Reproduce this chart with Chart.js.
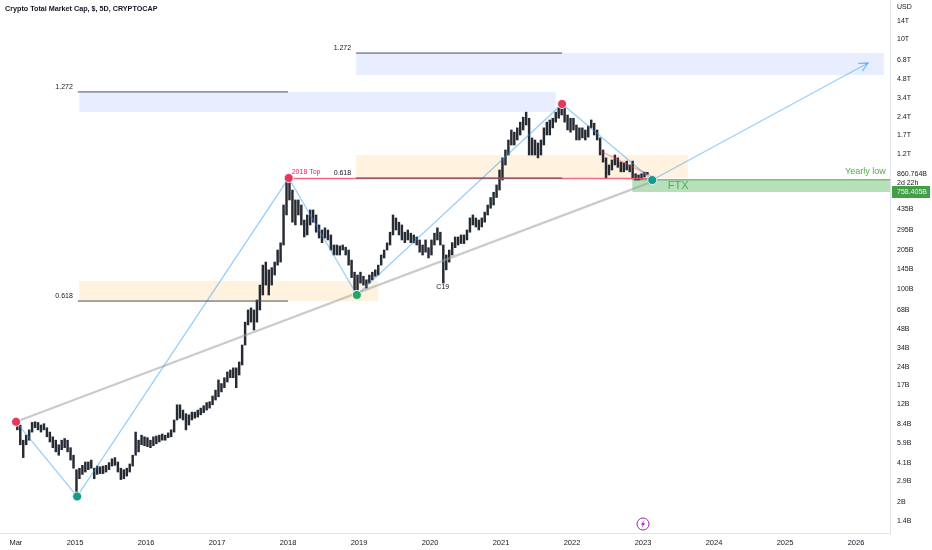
<!DOCTYPE html>
<html>
<head>
<meta charset="utf-8">
<title>Crypto Total Market Cap, $, 5D, CRYPTOCAP</title>
<script src="https://cdn.jsdelivr.net/npm/chart.js@4.4.0/dist/chart.umd.min.js"></script>
<style>
  html, body { margin: 0; padding: 0; background: #ffffff; }
  #wrap { position: relative; width: 932px; height: 550px; }
</style>
</head>
<body>
<div id="wrap"><canvas id="chart"></canvas></div>
<script>
/* ---------- data (billions USD, [low, high] per half month) ---------- */

const yr2014 = [[7.5, 9.0], [5.7, 8.2], [4.5, 6.2], [5.7, 6.8], [6.2, 7.5], [7.2, 8.6], [7.8, 8.7], [7.5, 8.6],
  [7.2, 8.2], [7.5, 8.4], [6.6, 7.8], [6.0, 7.2], [5.4, 6.6], [5.0, 6.2], [4.7, 5.7], [5.2, 6.2],
  [5.4, 6.4], [5.0, 6.2], [4.3, 5.4], [3.7, 4.7]];
const yr2015 = [[2.2, 3.6], [3.05, 3.7], [3.3, 3.9], [3.45, 4.15], [3.6, 4.15], [3.7, 4.3], [3.05, 3.7], [3.3, 3.85],
  [3.35, 3.8], [3.35, 3.85], [3.45, 3.9], [3.6, 4.1], [3.85, 4.4], [3.9, 4.5], [3.45, 4.15], [3.0, 3.7],
  [3.05, 3.6], [3.2, 3.7], [3.45, 4.0], [3.85, 4.7], [4.7, 7.2], [5.0, 6.2], [5.7, 6.8], [5.6, 6.6]];
const yr2016 = [[5.5, 6.5], [5.4, 6.2], [5.6, 6.6], [5.8, 6.7], [6.0, 6.8], [6.2, 6.95], [6.2, 6.8], [6.5, 7.1],
  [6.6, 7.5], [7.2, 9.0], [9.0, 11.9], [9.3, 11.9], [9.0, 10.8], [7.5, 10.1], [8.2, 9.9], [9.0, 10.4],
  [9.3, 10.4], [9.5, 10.8], [9.9, 11.2], [10.3, 11.7], [10.8, 12.4], [11.2, 12.6], [11.9, 14.0], [13.0, 15.6]];
const yr2017 = [[13.8, 18.8], [15.1, 17.6], [16.3, 19.6], [18.1, 21.8], [19.6, 22.6], [19.6, 23.5], [16.3, 23.5], [20.6, 26.2],
  [24.8, 35.8], [35.8, 54.6], [51.8, 68.3], [54.6, 70.9], [47.2, 68.3], [54.6, 82.1], [68.3, 108], [90, 156],
  [108, 165], [90, 143], [108, 149], [130, 165], [156, 206], [165, 235], [226, 472], [393, 776]];
const yr2018 = [[518, 776], [344, 622], [327, 518], [393, 518], [327, 472], [262, 358], [272, 393], [327, 431],
  [344, 431], [286, 393], [257, 327], [236, 298], [257, 310], [248, 298], [206, 272], [188, 226],
  [188, 226], [188, 222], [206, 226], [188, 217], [156, 206], [124, 171], [98.7, 137], [98.7, 130]];
const yr2019 = [[112, 137], [108, 127], [102, 119], [112, 130], [119, 137], [127, 143], [130, 156], [156, 188],
  [178, 206], [206, 235], [226, 286], [272, 393], [298, 372], [272, 344], [248, 327], [236, 286],
  [248, 298], [236, 281], [235, 272], [226, 262], [198, 248], [188, 226], [198, 248], [178, 215]];
const yr2020 = [[188, 248], [226, 281], [248, 310], [226, 286], [112, 226], [143, 188], [165, 206], [188, 236],
  [215, 262], [226, 262], [232, 272], [232, 272], [248, 298], [286, 372], [327, 393], [315, 372],
  [298, 358], [315, 372], [344, 414], [393, 472], [445, 542], [472, 597], [542, 683], [622, 900]];
const yr2021 = [[748, 1125], [987, 1301], [1186, 1564], [1426, 1880], [1426, 1807], [1564, 1955], [1715, 2172], [1880, 2380],
  [2061, 2610], [1186, 2335], [1186, 1625], [1186, 1564], [1125, 1480], [1186, 1564], [1426, 1955], [1715, 2172],
  [1715, 2260], [1955, 2335], [2172, 2610], [2335, 2830], [2478, 3100], [2172, 2830], [1880, 2478], [1807, 2335]];
const yr2022 = [[1880, 2335], [1564, 2061], [1564, 1955], [1625, 1955], [1564, 1880], [1650, 2020], [1955, 2260], [1715, 2130],
  [1564, 1880], [1186, 1625], [1040, 1301], [776, 1125], [821, 987], [900, 1082], [987, 1186], [945, 1125],
  [870, 1040], [870, 1025], [900, 1060], [870, 987], [776, 1060], [748, 840], [748, 821], [762, 840]];
const yr2023 = [[790, 865], [830, 862]];

const years = [2014, 2015, 2016, 2017, 2018, 2019, 2020, 2021, 2022, 2023];
const firstSlot2014 = 4; // series starts in early March 2014

const lastPrice = 860.764;
const yearlyLow = 758.405;

const xTickValues = [2014.167, 2015, 2016, 2017, 2018, 2019, 2020, 2021, 2022, 2023, 2024, 2025, 2026];
const xTickLabels = ['Mar', '2015', '2016', '2017', '2018', '2019', '2020', '2021', '2022', '2023', '2024', '2025', '2026'];

const yTickValues = [1.4, 2, 2.9, 4.1, 5.9, 8.4, 12, 17, 24, 34, 48, 68, 100, 145, 205, 295, 435,
  1200, 1700, 2400, 3400, 4800, 6800, 10000, 14000];
const yTickLabels = ['1.4B', '2B', '2.9B', '4.1B', '5.9B', '8.4B', '12B', '17B', '24B', '34B', '48B', '68B', '100B',
  '145B', '205B', '295B', '435B', '1.2T', '1.7T', '2.4T', '3.4T', '4.8T', '6.8T', '10T', '14T'];

// drawing tools, in [year, billions]
const zigzag = [[2014.17, 8.7], [2015.03, 2.2], [2018.01, 776], [2018.97, 90], [2021.86, 3035], [2023.13, 748], [2026.17, 6460]];
const trendLine = [[2014.17, 8.7], [2023.17, 740]];
const fallLine = [[2022.37, 1300], [2023.2, 762]];
const topLine = [[2018.01, 770], [2023.1, 770]];
const pivots = [[2014.17, 8.7], [2015.03, 2.2], [2018.01, 776], [2018.97, 90], [2021.86, 3035], [2023.13, 748]];
const pivotKinds = ['top', 'low', 'top', 'base', 'top', 'low'];

// [x1, x2, level, label]
const fibLines = [
  [2015.04, 2018.0, 3790, '1.272'],
  [2018.96, 2021.86, 7760, '1.272'],
  [2018.96, 2021.86, 776, '0.618'],
  [2015.04, 2018.0, 80.5, '0.618']
];
// [x1, x2, top, bottom, kind]
const zones = [
  [2018.96, 2026.39, 7760, 5180, 'blue'],
  [2015.06, 2021.77, 3790, 2620, 'blue'],
  [2018.96, 2023.63, 1186, 776, 'orange'],
  [2015.06, 2019.27, 116.5, 80.5, 'orange'],
  [2022.85, 2026.48, 762, 600, 'green']
];

/* ---------- build ---------- */

const candles = [];
[yr2014, yr2015, yr2016, yr2017, yr2018, yr2019, yr2020, yr2021, yr2022, yr2023].forEach((rows, k) => {
  const start = k === 0 ? firstSlot2014 : 0;
  rows.forEach(([lo, hi], i) => {
    candles.push({ x: years[k] + (start + i + 0.5) / 24, y: [lo, hi] });
  });
});

const toPts = arr => arr.map(([x, y]) => ({ x, y }));

const zoneColors = {
  blue: 'rgba(41, 98, 255, 0.11)',
  orange: 'rgba(255, 152, 0, 0.13)',
  green: 'rgba(76, 175, 80, 0.40)'
};
const pivotColors = { top: '#e8375f', low: '#16998a', base: '#27a366' };
const FONT = '"Liberation Sans", Arial, sans-serif';
const TEXT = '#131722';

const lineSet = (data, color, width, order) => ({
  type: 'line', data: toPts(data), borderColor: color, borderWidth: width,
  pointRadius: 0, tension: 0, fill: false, order
});

const datasets = [
  {
    type: 'bar', data: candles, backgroundColor: '#262a33', borderWidth: 0,
    barThickness: 1.8, grouped: false, order: 10
  },
  lineSet(trendLine, 'rgba(160, 160, 160, 0.55)', 2.2, 8),
  lineSet(fallLine, 'rgba(242, 54, 69, 0.35)', 1.5, 7),
  lineSet(topLine, 'rgba(240, 80, 115, 0.85)', 1.5, 6),
  lineSet(zigzag, 'rgba(33, 150, 243, 0.45)', 1.3, 5)
];
fibLines.forEach(([x1, x2, v]) => datasets.push(lineSet([[x1, v], [x2, v]], '#4a4e59', 1, 4)));
datasets.push({
  type: 'line', data: toPts(pivots), showLine: false, order: 0,
  pointRadius: 4.5, pointBorderWidth: 1, pointBorderColor: 'rgba(255,255,255,0.8)',
  pointBackgroundColor: pivotKinds.map(k => pivotColors[k])
});

const drawings = {
  id: 'drawings',
  beforeDatasetsDraw(chart) {
    const { ctx, scales: { x, y } } = chart;
    ctx.save();
    zones.forEach(([x1, x2, top, bottom, kind]) => {
      const left = x.getPixelForValue(x1);
      const right = x.getPixelForValue(x2);
      const t = y.getPixelForValue(top);
      const b = y.getPixelForValue(bottom);
      ctx.fillStyle = zoneColors[kind];
      ctx.fillRect(left, t, right - left, b - t);
      if (kind === 'green') {
        ctx.fillStyle = 'rgba(76, 175, 80, 0.6)';
        ctx.fillRect(left, t, right - left, 1.5);
      }
    });
    ctx.restore();
  },
  afterDraw(chart) {
    const { ctx, scales: { x, y }, chartArea } = chart;
    ctx.save();

    // title
    ctx.fillStyle = TEXT;
    ctx.textBaseline = 'middle';
    ctx.textAlign = 'left';
    ctx.font = 'bold 7.2px ' + FONT;
    ctx.fillText('Crypto Total Market Cap, $, 5D, CRYPTOCAP', 5, 9);

    // fib level labels
    ctx.font = '7px ' + FONT;
    ctx.textAlign = 'right';
    fibLines.forEach(([x1, , v, label]) => {
      ctx.fillText(label, x.getPixelForValue(x1) - 5, y.getPixelForValue(v) - 5);
    });

    // text notes
    ctx.textAlign = 'left';
    ctx.fillStyle = '#e91e63';
    ctx.fillText('2018 Top', x.getPixelForValue(topLine[0][0]) + 3, y.getPixelForValue(topLine[0][1]) - 6);
    ctx.fillStyle = TEXT;
    ctx.textAlign = 'center';
    ctx.fillText('C19', x.getPixelForValue(2020.18), y.getPixelForValue(104));

    ctx.fillStyle = '#4caf50';
    ctx.textAlign = 'right';
    ctx.font = '9px ' + FONT;
    ctx.fillText('Yearly low', x.getPixelForValue(2026.42), y.getPixelForValue(867));
    ctx.textAlign = 'left';
    ctx.font = '11px ' + FONT;
    ctx.fillText('FTX', x.getPixelForValue(2023.35), y.getPixelForValue(670));

    // arrow head on the projection line
    const [ax, ay] = zigzag[zigzag.length - 1];
    const [bx, by] = zigzag[zigzag.length - 2];
    const tipX = x.getPixelForValue(ax), tipY = y.getPixelForValue(ay);
    const ang = Math.atan2(tipY - y.getPixelForValue(by), tipX - x.getPixelForValue(bx));
    ctx.strokeStyle = 'rgba(33, 150, 243, 0.55)';
    ctx.lineWidth = 1.3;
    ctx.beginPath();
    ctx.moveTo(tipX - 10 * Math.cos(ang - 0.45), tipY - 10 * Math.sin(ang - 0.45));
    ctx.lineTo(tipX, tipY);
    ctx.lineTo(tipX - 10 * Math.cos(ang + 0.45), tipY - 10 * Math.sin(ang + 0.45));
    ctx.stroke();

    // price scale labels
    const axX = chartArea.right;
    ctx.fillStyle = TEXT;
    ctx.font = '7px ' + FONT;
    ctx.textAlign = 'left';
    ctx.fillText('USD', axX + 7, 7);
    const py = y.getPixelForValue(lastPrice);
    ctx.fillText(lastPrice.toFixed(3) + 'B', axX + 7, py + 1.6);
    ctx.fillText('2d 22h', axX + 7, py + 10.6);
    ctx.fillStyle = '#43a047';
    ctx.fillRect(axX + 2, py + 13.6, 38, 12);
    ctx.fillStyle = '#e8f5e9';
    ctx.fillText(yearlyLow.toFixed(3) + 'B', axX + 7, py + 19.8);

    // event marker
    const ex = x.getPixelForValue(2023.0), ey = chartArea.bottom - 9;
    ctx.strokeStyle = '#9c27b0';
    ctx.lineWidth = 1;
    ctx.beginPath();
    ctx.arc(ex, ey, 6, 0, Math.PI * 2);
    ctx.stroke();
    ctx.fillStyle = '#9c27b0';
    ctx.beginPath();
    ctx.moveTo(ex + 1.5, ey - 4);
    ctx.lineTo(ex - 2.2, ey + 0.8);
    ctx.lineTo(ex - 0.1, ey + 0.8);
    ctx.lineTo(ex - 1.5, ey + 4);
    ctx.lineTo(ex + 2.2, ey - 0.8);
    ctx.lineTo(ex + 0.1, ey - 0.8);
    ctx.closePath();
    ctx.fill();

    ctx.restore();
  }
};

new Chart(document.getElementById('chart'), {
  type: 'bar',
  data: { datasets },
  plugins: [drawings],
  options: {
    responsive: true,
    maintainAspectRatio: false,
    animation: false,
    events: [],
    layout: { padding: 0, autoPadding: false },
    plugins: { legend: { display: false }, tooltip: { enabled: false } },
    scales: {
      x: {
        type: 'linear',
        min: 2013.9437,
        max: 2026.479,
        bounds: 'data',
        offset: false,
        grid: { display: false, drawTicks: false },
        border: { display: true, color: '#e0e3eb' },
        afterBuildTicks: s => { s.ticks = xTickValues.map(v => ({ value: v })); },
        afterFit: s => { s.height = 17; s.paddingLeft = 0; s.paddingRight = 0; },
        ticks: {
          autoSkip: false, maxRotation: 0, padding: 5, color: TEXT,
          font: { family: FONT, size: 7.5 },
          callback: (v, i) => xTickLabels[i]
        }
      },
      y: {
        type: 'logarithmic',
        position: 'right',
        min: 1.122,
        max: 20612,
        bounds: 'data',
        grid: { display: false, drawTicks: false },
        border: { display: true, color: '#e0e3eb' },
        afterBuildTicks: s => { s.ticks = yTickValues.map(v => ({ value: v })); },
        afterFit: s => { s.width = 42; s.paddingTop = 0; s.paddingBottom = 0; },
        ticks: {
          autoSkip: false, padding: 7, color: TEXT,
          font: { family: FONT, size: 7 },
          callback: (v, i) => yTickLabels[i]
        }
      }
    }
  }
});
</script>
</body>
</html>
